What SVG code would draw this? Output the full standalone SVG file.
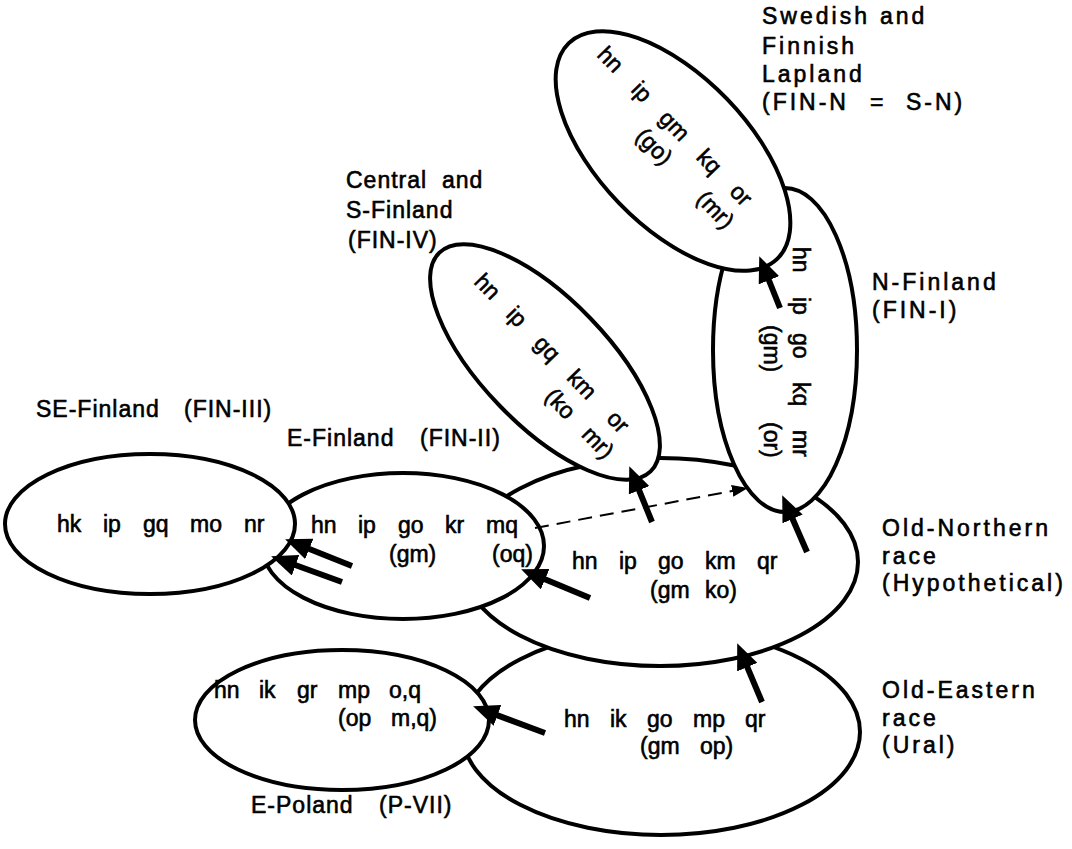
<svg xmlns="http://www.w3.org/2000/svg" width="1072" height="849" viewBox="0 0 1072 849">
<style>
.n{fill:#fff;stroke:#000;stroke-width:4}
.t{font-family:"Liberation Sans",Arial,sans-serif;font-size:23px;fill:#000;stroke:#000;stroke-width:0.6}
.l{letter-spacing:1px}
.r{letter-spacing:3px}
.arr{stroke:#000;stroke-width:6;fill:none;marker-end:url(#ah)}
.dash{stroke:#000;stroke-width:2;stroke-dasharray:14 8;fill:none;marker-end:url(#ahs)}
</style>
<defs>
<marker id="ah" markerUnits="userSpaceOnUse" markerWidth="26" markerHeight="22" refX="10" refY="11" orient="auto"><path d="M0,0 L26,11 L0,22 z" fill="#000"/></marker>
<marker id="ahs" markerUnits="userSpaceOnUse" markerWidth="16" markerHeight="12" refX="8" refY="6" orient="auto"><path d="M0,0 L16,6 L0,12 z" fill="#000"/></marker>
</defs>
<rect width="1072" height="849" fill="#fff"/>

<g id="old-eastern">
<ellipse class="n" cx="661" cy="732" rx="199" ry="103"/>
<text class="t"><tspan x="564" y="727">hn</tspan><tspan x="610" y="727">ik</tspan><tspan x="647" y="727">go</tspan><tspan x="693" y="727">mp</tspan><tspan x="745" y="727">qr</tspan></text>
<text class="t"><tspan x="640" y="754">(gm</tspan><tspan x="700" y="754">op)</tspan></text>
<text class="t r"><tspan x="882" y="698">Old-Eastern</tspan><tspan x="882" y="726">race</tspan><tspan x="882" y="753">(Ural)</tspan></text>
</g>

<g id="old-northern">
<ellipse class="n" cx="660" cy="562" rx="198" ry="104"/>
<text class="t"><tspan x="572" y="569">hn</tspan><tspan x="619" y="569">ip</tspan><tspan x="658" y="569">go</tspan><tspan x="705" y="569">km</tspan><tspan x="757" y="569">qr</tspan></text>
<text class="t"><tspan x="650" y="598">(gm</tspan><tspan x="705" y="598">ko)</tspan></text>
<text class="t r"><tspan x="882" y="536">Old-Northern</tspan><tspan x="882" y="564">race</tspan><tspan x="882" y="591">(Hypothetical)</tspan></text>
</g>

<g id="e-poland">
<ellipse class="n" cx="342" cy="720" rx="147" ry="70"/>
<text class="t"><tspan x="214" y="698">hn</tspan><tspan x="259" y="698">ik</tspan><tspan x="297" y="698">gr</tspan><tspan x="338" y="698">mp</tspan><tspan x="389" y="698">o,q</tspan></text>
<text class="t"><tspan x="338" y="726">(op</tspan><tspan x="391" y="726">m,q)</tspan></text>
<text class="t l"><tspan x="251" y="813">E-Poland</tspan><tspan x="379" y="813">(P-VII)</tspan></text>
</g>

<g id="e-finland">
<ellipse class="n" cx="403" cy="546" rx="141" ry="73"/>
<text class="t"><tspan x="311" y="533">hn</tspan><tspan x="358" y="533">ip</tspan><tspan x="398" y="533">go</tspan><tspan x="445" y="533">kr</tspan><tspan x="486" y="533">mq</tspan></text>
<text class="t"><tspan x="389" y="562">(gm)</tspan><tspan x="492" y="562">(oq)</tspan></text>
<text class="t l"><tspan x="287" y="446">E-Finland</tspan><tspan x="420" y="446">(FIN-II)</tspan></text>
</g>

<g id="se-finland">
<ellipse class="n" cx="150" cy="524" rx="145" ry="70"/>
<text class="t"><tspan x="57" y="532">hk</tspan><tspan x="103" y="532">ip</tspan><tspan x="143" y="532">gq</tspan><tspan x="190" y="532">mo</tspan><tspan x="244" y="532">nr</tspan></text>
<text class="t l"><tspan x="36" y="417">SE-Finland</tspan><tspan x="184" y="417">(FIN-III)</tspan></text>
</g>

<g id="fin-iv">
<ellipse class="n" cx="545" cy="362" rx="152" ry="63" transform="rotate(46 545 362)"/>
<g transform="translate(487,287) rotate(46)">
<text class="t" text-anchor="middle"><tspan x="0" y="7">hn</tspan><tspan x="42" y="7">ip</tspan><tspan x="86" y="7">gq</tspan><tspan x="136" y="7">km</tspan><tspan x="188" y="7">or</tspan></text>
<text class="t" text-anchor="middle"><tspan x="135" y="36">(ko</tspan><tspan x="189" y="36">mr)</tspan></text>
</g>
<text class="t l"><tspan x="346" y="188">Central</tspan><tspan x="442" y="188">and</tspan><tspan x="346" y="218">S-Finland</tspan><tspan x="348" y="248">(FIN-IV)</tspan></text>
</g>

<g id="n-finland">
<ellipse class="n" cx="785" cy="350" rx="72" ry="162"/>
<g transform="translate(793,247) rotate(90)">
<text class="t"><tspan x="0" y="0">hn</tspan><tspan x="50" y="0">ip</tspan><tspan x="86" y="0">go</tspan><tspan x="135" y="0">kq</tspan><tspan x="183" y="0">mr</tspan></text>
<text class="t"><tspan x="78" y="29">(gm)</tspan><tspan x="175" y="29">(or)</tspan></text>
</g>
<text class="t r"><tspan x="872" y="290">N-Finland</tspan><tspan x="872" y="318">(FIN-I)</tspan></text>
</g>

<g id="lapland">
<ellipse class="n" cx="673" cy="151" rx="150" ry="75" transform="rotate(46 673 151)"/>
<g transform="translate(610,60) rotate(46)">
<text class="t" text-anchor="middle"><tspan x="0" y="7">hn</tspan><tspan x="45" y="7">ip</tspan><tspan x="92" y="7">gm</tspan><tspan x="142" y="7">kq</tspan><tspan x="188" y="7">or</tspan></text>
<text class="t" text-anchor="middle"><tspan x="93" y="36">(go)</tspan><tspan x="181" y="36">(mr)</tspan></text>
</g>
<text class="t r"><tspan x="762" y="24">Swedish</tspan><tspan x="880" y="24">and</tspan><tspan x="762" y="54">Finnish</tspan><tspan x="762" y="82">Lapland</tspan><tspan x="762" y="110">(FIN-N</tspan><tspan x="870" y="110">=</tspan><tspan x="906" y="110">S-N)</tspan></text>
</g>

<g id="connectors">
<line class="arr" x1="352" y1="566" x2="300" y2="545.2"/>
<line class="arr" x1="342" y1="582" x2="286.2" y2="561.8"/>
<line class="arr" x1="590" y1="598" x2="535.9" y2="575.4"/>
<line class="arr" x1="652" y1="522" x2="635.3" y2="481"/>
<line class="arr" x1="807" y1="552" x2="788.6" y2="509.8"/>
<line class="arr" x1="780" y1="308" x2="765.2" y2="271"/>
<line class="arr" x1="762" y1="702" x2="743.4" y2="657.9"/>
<line class="arr" x1="545" y1="733" x2="488.1" y2="711.9"/>
<line class="dash" x1="535" y1="528" x2="740.1" y2="489.5"/>
</g>
</svg>
